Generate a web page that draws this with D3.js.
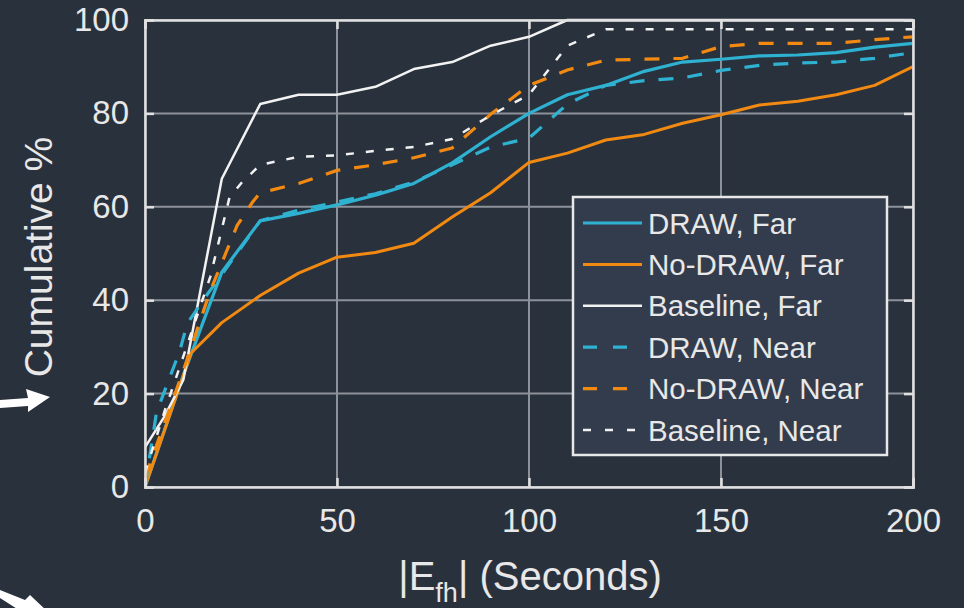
<!DOCTYPE html>
<html><head><meta charset="utf-8">
<script src="https://cdnjs.cloudflare.com/ajax/libs/d3/7.8.5/d3.min.js"></script>
<style>
html,body{margin:0;padding:0;background:#29313d;}
svg{display:block;}
text{font-family:"Liberation Sans",Arial,Helvetica,sans-serif;fill:#e8e8e8;}
</style></head>
<body>
<svg id="chart" width="964" height="608"></svg>
<script>
// ---- data ----
const xTicks = [0, 50, 100, 150, 200];
const yTicks = [0, 20, 40, 60, 80, 100];

const drawFarX   = [0,10,20,30,40,50,60,70,80,90,100,110,120,130,140,150,160,170,180,190,200];
const drawFarY   = [0,24,46,57,58.6,60.4,62.5,65,69.4,75,80,84,86,89,91,91.6,92.3,92.5,93,94.2,95];

const noDrawFarX = [0,12,20,30,40,50,60,70,80,90,100,110,120,130,140,150,160,170,180,190,200];
const noDrawFarY = [0,28.7,35.2,41,45.8,49.2,50.2,52.2,57.8,63,69.5,71.5,74.3,75.5,77.9,79.7,81.8,82.6,84,86,90];

const baseFarX   = [0,5,10,20,30,40,50,60,70,80,90,100,110,120,130,140,150,160,170,180,190,200];
const baseFarY   = [8.5,15,23,66,82,84,84,85.7,89.5,91,94.5,96.4,100,100,100,100,100,100,100,100,100,100];

const drawNearX  = [0,3,9,11,16,20,30,40,50,60,70,80,90,100,110,120,130,140,150,160,170,180,190,200];
const drawNearY  = [0,16,29,35,41,45.5,57,59.3,61,62.8,65.3,69,72.8,74.7,82,86,87,87.6,89.2,90.3,90.8,91,91.8,93];

const noDrawNearX = [0,10,17,20,24,28,30,40,50,60,70,80,90,100,110,120,130,140,150,160,170,180,190,200];
const noDrawNearY = [2,25,42,48,56,61,63,65,67.8,69,70.5,72.6,79.8,86,89.3,91.4,91.6,91.8,94.3,95,95,95,95.8,96.4];

const baseNearX  = [0,5,10,17,22,25,30,40,50,60,70,80,90,100,110,120,130,140,150,160,170,180,190,200];
const baseNearY  = [3,16,28,45,62,65,69,70.7,71,72,72.8,74.5,79.6,84,94.5,98,98,98,98,98,98,98,98,98];

const seriesNames = ["DRAW, Far","No-DRAW, Far","Baseline, Far","DRAW, Near","No-DRAW, Near","Baseline, Near"];

// ---- styles ----
const CYAN = "#2fb2d2", ORANGE = "#f28a12", WHITE = "#f2f2f2";
const series = [
  {name: seriesNames[0], xs: drawFarX,    ys: drawFarY,    color: CYAN,   width: 3.2, dash: null},
  {name: seriesNames[1], xs: noDrawFarX,  ys: noDrawFarY,  color: ORANGE, width: 3,   dash: null},
  {name: seriesNames[2], xs: baseFarX,    ys: baseFarY,    color: WHITE,  width: 2.5, dash: null},
  {name: seriesNames[3], xs: drawNearX,   ys: drawNearY,   color: CYAN,   width: 3.2, dash: "15,14"},
  {name: seriesNames[4], xs: noDrawNearX, ys: noDrawNearY, color: ORANGE, width: 3.2, dash: "15,14"},
  {name: seriesNames[5], xs: baseNearX,   ys: baseNearY,   color: WHITE,  width: 2.5, dash: "8,12"}
];

const svg = d3.select("#chart");
const L = 145, R = 913, T = 20, B = 487;
const x = d3.scaleLinear().domain([0,200]).range([L,R]);
const y = d3.scaleLinear().domain([0,100]).range([B,T]);

// background
svg.append("rect").attr("width",964).attr("height",608).attr("fill","#29313d");

// grid
const g = svg.append("g");
g.selectAll(".gx").data(xTicks).enter().append("line")
  .attr("x1",d=>x(d)).attr("x2",d=>x(d)).attr("y1",T).attr("y2",B)
  .attr("stroke","#8d929a").attr("stroke-width",2);
g.selectAll(".gy").data(yTicks).enter().append("line")
  .attr("y1",d=>y(d)).attr("y2",d=>y(d)).attr("x1",L).attr("x2",R)
  .attr("stroke","#8d929a").attr("stroke-width",2);

// series
const line = d3.line().x(d=>x(d[0])).y(d=>y(d[1]));
svg.append("clipPath").attr("id","clip").append("rect")
  .attr("x",L).attr("y",T-2).attr("width",R-L).attr("height",B-T+4);
const lg = svg.append("g").attr("clip-path","url(#clip)");
series.forEach(s=>{
  const pts = s.xs.map((v,i)=>[v, s.ys[i]]);
  lg.append("path").datum(pts).attr("d",line)
    .attr("fill","none").attr("stroke",s.color).attr("stroke-width",s.width)
    .attr("stroke-linejoin","round")
    .attr("stroke-dasharray",s.dash);
});

// axes box + inner ticks
const axisColor = "#e0e0e0";
const axL = d3.axisLeft(y).tickValues(yTicks).tickSize(-9).tickPadding(16).tickFormat(d3.format("d"));
const axB = d3.axisBottom(x).tickValues(xTicks).tickSize(-9).tickPadding(22).tickFormat(d3.format("d"));
const axR = d3.axisRight(y).tickValues(yTicks).tickSize(-9).tickFormat("");
const axT = d3.axisTop(x).tickValues(xTicks).tickSize(-9).tickFormat("");
function styleAxis(sel){
  sel.selectAll("path.domain").attr("stroke",axisColor).attr("stroke-width",2.5);
  sel.selectAll(".tick line").attr("stroke",axisColor).attr("stroke-width",2.5);
  sel.selectAll("text").attr("fill","#e8e8e8").style("font-size","33px")
    .style("font-family","'Liberation Sans',Arial,sans-serif");
}
styleAxis(svg.append("g").attr("transform",`translate(${L},0)`).call(axL));
styleAxis(svg.append("g").attr("transform",`translate(0,${B})`).call(axB));
styleAxis(svg.append("g").attr("transform",`translate(${R},0)`).call(axR));
styleAxis(svg.append("g").attr("transform",`translate(0,${T})`).call(axT));

// axis labels
svg.append("text").attr("transform","translate(52,257) rotate(-90)")
  .attr("text-anchor","middle").style("font-size","39px").text("Cumulative %");
const xl = svg.append("text").attr("x",530).attr("y",590).attr("text-anchor","middle").style("font-size","40px");
xl.append("tspan").text("|E");
xl.append("tspan").attr("dy",12).style("font-size","27px").text("fh");
xl.append("tspan").attr("dy",-12).text("| (Seconds)");

// legend
const lgX = 573, lgY = 197, lgW = 314, lgH = 258;
svg.append("rect").attr("x",lgX).attr("y",lgY).attr("width",lgW).attr("height",lgH)
  .attr("fill","#333c4d").attr("stroke","#e8e8e8").attr("stroke-width",2.5);
const rowY = d3.scaleLinear().domain([0,5]).range([lgY+26, lgY+233]);
series.forEach((s,i)=>{
  const yy = rowY(i);
  svg.append("line").attr("x1",lgX+10).attr("x2",lgX+69).attr("y1",yy).attr("y2",yy)
    .attr("stroke",s.color).attr("stroke-width",s.width)
    .attr("stroke-dasharray",s.dash ? (s.color===WHITE ? "8,14" : "14,16") : null);
  svg.append("text").attr("x",lgX+75).attr("y",yy+10.5).style("font-size","29.5px").text(s.name);
});

// decorative slide arrows at the left edge
svg.append("path").attr("d","M0,400 L28,398 L26,389 L50,397 L28,412 L28,406 L0,408 Z").attr("fill","#ffffff");
svg.append("path").attr("d","M0,590 L25,600 L30,595 L48,612 L22,612 L0,598 Z").attr("fill","#ffffff");
</script>
</body></html>
